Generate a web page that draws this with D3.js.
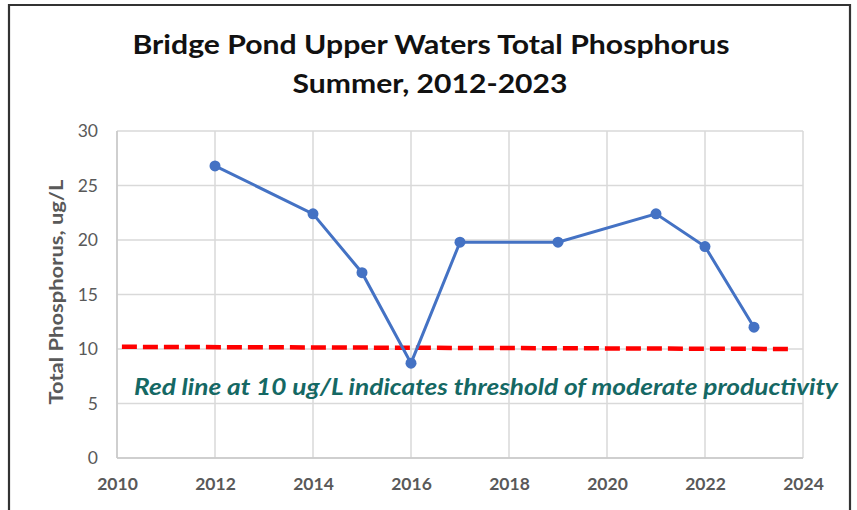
<!DOCTYPE html>
<html><head><meta charset="utf-8">
<script src="https://cdn.jsdelivr.net/npm/d3@7"></script>
<style>body{margin:0;background:#fff}svg{display:block}</style>
</head><body>
<svg id="c" width="857" height="510"></svg>
<script>
const years = [2012, 2014, 2015, 2016, 2017, 2019, 2021, 2022, 2023];
const phosphorus = [26.8, 22.4, 17.0, 8.7, 19.8, 19.8, 22.4, 19.4, 12.0];
const xTicks = [2010, 2012, 2014, 2016, 2018, 2020, 2022, 2024];
const yTicks = [0, 5, 10, 15, 20, 25, 30];
const thresholdYears = [2010.1, 2023.8];
const thresholdValues = [10.2, 10.0];
const titleLines = ["Bridge Pond Upper Waters Total Phosphorus", "Summer, 2012-2023"];
const yLabel = "Total Phosphorus,  ug/L";
const note = "Red line at 10 ug/L indicates threshold of moderate productivity";

const svg = d3.select("#c");
const L = 117, R = 803, T = 131, B = 458;
const x = d3.scaleLinear().domain([2010, 2024]).range([L, R]);
const y = d3.scaleLinear().domain([0, 30]).range([B, T]);

// frame
svg.append("path").attr("d", `M9,515 V5 H850 V515`).attr("fill", "none")
  .attr("stroke", "#333").attr("stroke-width", 2.2);

// title
const font = "Lato, 'Open Sans', sans-serif";
const tt = svg.append("g");
tt.append("text").attr("x", 431).attr("y", 54).attr("text-anchor", "middle")
  .attr("font-family", font).attr("font-weight", 700).attr("font-size", 26.5)
  .attr("fill", "#111").attr("textLength", 597).attr("lengthAdjust", "spacingAndGlyphs").text(titleLines[0]);
tt.append("text").attr("x", 430).attr("y", 93).attr("text-anchor", "middle")
  .attr("font-family", font).attr("font-weight", 700).attr("font-size", 26.5)
  .attr("fill", "#111").attr("textLength", 275).attr("lengthAdjust", "spacingAndGlyphs").text(titleLines[1]);

// grid
svg.append("g").selectAll("line").data(yTicks).join("line")
  .attr("x1", L).attr("x2", R).attr("y1", d => y(d)).attr("y2", d => y(d))
  .attr("stroke", "#d9d9d9").attr("stroke-width", 1.5);
svg.append("g").selectAll("line").data(xTicks).join("line")
  .attr("y1", T).attr("y2", B).attr("x1", d => x(d)).attr("x2", d => x(d))
  .attr("stroke", "#d9d9d9").attr("stroke-width", 1.5);
// axis lines
svg.append("line").attr("x1", L).attr("x2", L).attr("y1", T).attr("y2", B).attr("stroke", "#c8c8c8").attr("stroke-width", 1.5);
svg.append("line").attr("x1", L).attr("x2", R).attr("y1", B).attr("y2", B).attr("stroke", "#c8c8c8").attr("stroke-width", 1.5);

// axes via d3
const xAxis = svg.append("g").attr("transform", `translate(0,${B})`)
  .call(d3.axisBottom(x).tickValues(xTicks).tickFormat(d3.format("d")).tickSize(0).tickPadding(20));
const yAxis = svg.append("g").attr("transform", `translate(${L},0)`)
  .call(d3.axisLeft(y).tickValues(yTicks).tickSize(0).tickPadding(19));
[xAxis, yAxis].forEach(a => {
  a.select(".domain").remove();
  a.selectAll("text").attr("font-family", font).attr("font-size", 17.5)
    .attr("fill", "#595959");
});
xAxis.selectAll("text").attr("font-weight", 700).attr("dy", "0.71em");
yAxis.selectAll("text").attr("font-weight", 400);

// y label
svg.append("text").attr("transform", "translate(63,292) rotate(-90)")
  .attr("text-anchor", "middle").attr("font-family", font).attr("font-weight", 700)
  .attr("font-size", 18).attr("fill", "#595959").attr("textLength", 225)
  .attr("lengthAdjust", "spacingAndGlyphs").text(yLabel);

// threshold line
const thr = thresholdYears.map((d, i) => [d, thresholdValues[i]]);
svg.append("path").datum(thr)
  .attr("d", d3.line().x(d => x(d[0])).y(d => y(d[1])))
  .attr("stroke", "#ff0000").attr("stroke-width", 4.5).attr("fill", "none")
  .attr("stroke-dasharray", "15,6");

// series
const pts = years.map((d, i) => [d, phosphorus[i]]);
svg.append("path").datum(pts)
  .attr("d", d3.line().x(d => x(d[0])).y(d => y(d[1])))
  .attr("stroke", "#4472c4").attr("stroke-width", 3).attr("fill", "none");
svg.append("g").selectAll("circle").data(pts).join("circle")
  .attr("cx", d => x(d[0])).attr("cy", d => y(d[1])).attr("r", 5.5).attr("fill", "#4472c4");

// note
svg.append("text").attr("x", 134).attr("y", 395)
  .attr("font-family", font).attr("font-weight", 700).attr("font-style", "italic")
  .attr("font-size", 22).attr("fill", "#156864").attr("textLength", 704)
  .attr("lengthAdjust", "spacingAndGlyphs").text(note);
</script>
</body></html>
